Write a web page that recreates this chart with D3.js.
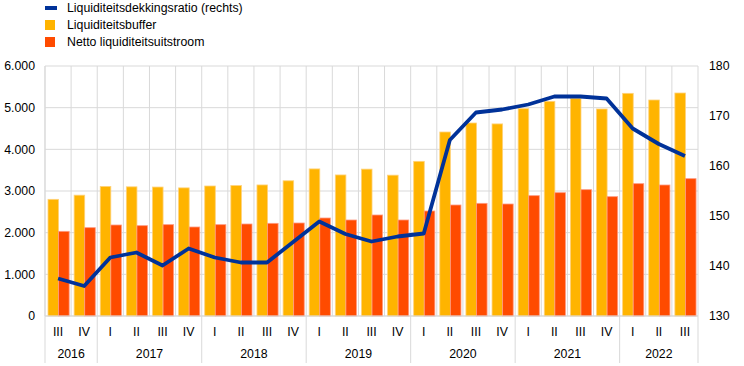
<!DOCTYPE html>
<html><head><meta charset="utf-8">
<script src="https://cdn.jsdelivr.net/npm/d3@7"></script>
<style>body{margin:0;background:#fff}svg{display:block;font-family:"Liberation Sans",Arial,sans-serif}</style>
</head><body><svg id="c" width="744" height="366"></svg>
<script>
const quarters = ["III","IV","I","II","III","IV","I","II","III","IV","I","II","III","IV","I","II","III","IV","I","II","III","IV","I","II","III"];
const years = ["2016","2016","2017","2017","2017","2017","2018","2018","2018","2018","2019","2019","2019","2019","2020","2020","2020","2020","2021","2021","2021","2021","2022","2022","2022"];
const buffer = [2800,2900,3110,3100,3095,3075,3120,3130,3145,3245,3530,3385,3525,3380,3712,4416,4632,4610,4976,5152,5224,4968,5344,5184,5352];
const outflow = [2032,2120,2184,2168,2192,2136,2192,2208,2224,2232,2352,2304,2424,2304,2520,2664,2704,2688,2888,2960,3032,2864,3176,3144,3296];
const ratio = [137.5,136,141.7,142.7,140.1,143.5,141.7,140.7,140.7,144.8,148.9,146.4,144.9,145.9,146.5,165.2,170.7,171.3,172.3,173.9,173.9,173.5,167.5,164.4,162];
const leftTicks = [0,1000,2000,3000,4000,5000,6000];
const rightTicks = [130,140,150,160,170,180];
const legendLabels = ["Liquiditeitsdekkingsratio (rechts)","Liquiditeitsbuffer","Netto liquiditeitsuitstroom"];
const colors = {line:"#003299", buffer:"#FFB400", outflow:"#FF4B00", grid:"#d9d9d9"};

const svg = d3.select("#c");
const L=45, R=698, T=66, B=316;
const idx = d3.range(quarters.length);
const x = d3.scaleBand().domain(idx).range([L,R]).paddingInner(0).paddingOuter(0);
const yL = d3.scaleLinear().domain([0,6000]).range([B,T]);
const yR = d3.scaleLinear().domain([130,180]).range([B,T]);
const loc = d3.formatLocale({decimal:",",thousands:".",grouping:[3],currency:["€",""]});
const fmt = loc.format(",d");

// gridlines
const g = svg.append("g");
leftTicks.forEach(t=>g.append("line").attr("x1",L).attr("x2",R).attr("y1",yL(t)).attr("y2",yL(t)).attr("stroke",colors.grid).attr("stroke-width",1));
idx.concat([quarters.length]).forEach(i=>{
  const xx = i<quarters.length ? x(i) : R;
  g.append("line").attr("x1",xx).attr("x2",xx).attr("y1",T).attr("y2",B).attr("stroke",colors.grid).attr("stroke-width",1);
});

// bars
const bw = x.bandwidth();
const barW = bw*0.405, off = bw*0.115;
svg.append("g").selectAll("rect").data(idx).join("rect")
  .attr("x",i=>x(i)+off).attr("width",barW)
  .attr("y",i=>yL(buffer[i])).attr("height",i=>B-yL(buffer[i]))
  .attr("fill",colors.buffer).attr("stroke","#FFD27a").attr("stroke-width",0.8);
svg.append("g").selectAll("rect").data(idx).join("rect")
  .attr("x",i=>x(i)+off+barW).attr("width",barW)
  .attr("y",i=>yL(outflow[i])).attr("height",i=>B-yL(outflow[i]))
  .attr("fill",colors.outflow).attr("stroke","#FF9a80").attr("stroke-width",0.8);

// line
svg.append("path").datum(idx)
  .attr("d",d3.line().x(i=>x(i)+bw/2).y(i=>yR(ratio[i])))
  .attr("fill","none").attr("stroke",colors.line).attr("stroke-width",3.8).attr("stroke-linejoin","round");

// baseline & left axis line
svg.append("line").attr("x1",L).attr("x2",R).attr("y1",B).attr("y2",B).attr("stroke",colors.grid);
svg.append("line").attr("x1",L).attr("x2",L).attr("y1",T).attr("y2",363).attr("stroke",colors.grid);

// axes labels
const ax = svg.append("g").attr("font-size",12.3).attr("fill","#000");
leftTicks.forEach(t=>ax.append("text").attr("x",35).attr("y",yL(t)).attr("dy","0.35em").attr("text-anchor","end").text(fmt(t)));
rightTicks.forEach(t=>ax.append("text").attr("x",709).attr("y",yR(t)).attr("dy","0.35em").attr("text-anchor","start").text(t));
idx.forEach(i=>ax.append("text").attr("x",x(i)+bw/2).attr("y",332).attr("dy","0.35em").attr("text-anchor","middle").text(quarters[i]));
// year groups
const yearNames = Array.from(new Set(years));
yearNames.forEach(yr=>{
  const ids = idx.filter(i=>years[i]===yr);
  const x0 = x(ids[0]), x1 = x(ids[ids.length-1])+bw;
  ax.append("text").attr("x",(x0+x1)/2).attr("y",354).attr("dy","0.35em").attr("text-anchor","middle").text(yr);
  svg.append("line").attr("x1",x1).attr("x2",x1).attr("y1",B).attr("y2",363).attr("stroke",colors.grid);
});

// legend
const lg = svg.append("g").attr("font-size",12.3);
lg.append("rect").attr("x",45).attr("y",6).attr("width",12).attr("height",4).attr("fill",colors.line);
lg.append("rect").attr("x",45).attr("y",20).attr("width",10).attr("height",10).attr("fill",colors.buffer);
lg.append("rect").attr("x",45).attr("y",37).attr("width",10).attr("height",10).attr("fill",colors.outflow);
[8,25,42].forEach((yy,k)=>lg.append("text").attr("x",67).attr("y",yy).attr("dy","0.35em").text(legendLabels[k]));
</script></body></html>
